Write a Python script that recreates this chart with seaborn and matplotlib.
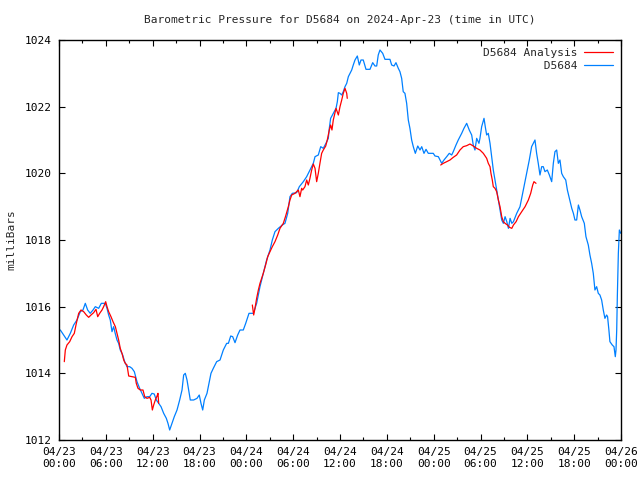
import numpy as np
import pandas as pd
import matplotlib
matplotlib.use("Agg")
import matplotlib.pyplot as plt
import seaborn as sns
from matplotlib.ticker import MultipleLocator, FixedLocator

# ---------------- data ----------------
title = "Barometric Pressure for D5684 on 2024-Apr-23 (time in UTC)"
y_label = "milliBars"
series_obs = "D5684"
series_ana = "D5684 Analysis"

x_tick_hours = [0, 6, 12, 18, 24, 30, 36, 42, 48, 54, 60, 66, 72]
x_tick_labels = ["04/23\n00:00", "04/23\n06:00", "04/23\n12:00", "04/23\n18:00",
                 "04/24\n00:00", "04/24\n06:00", "04/24\n12:00", "04/24\n18:00",
                 "04/25\n00:00", "04/25\n06:00", "04/25\n12:00", "04/25\n18:00",
                 "04/26\n00:00"]
y_ticks = [1012, 1014, 1016, 1018, 1020, 1022, 1024]

obs_hours = [0.17, 0.6, 1.02, 1.45, 1.88, 2.3, 2.73, 3.07, 3.37, 3.67, 4.0, 4.36, 4.65, 5.08,
             5.42, 5.93, 6.15, 6.36, 6.57, 6.79, 7.0, 7.2, 7.43, 7.64, 7.85, 8.16, 8.41, 8.71,
             9.05, 9.35, 9.65, 9.99, 10.33, 10.63, 10.93, 11.27, 11.62, 11.91, 12.2, 12.47,
             12.77, 13.07, 13.41, 13.75, 13.96, 14.18, 14.48, 14.77, 15.12, 15.46, 15.76,
             15.97, 16.18, 16.4, 16.61, 16.82, 17.25, 17.68, 17.97, 18.19, 18.41, 18.62,
             18.96, 19.22, 19.47, 19.77, 20.2, 20.63, 21.05, 21.48, 21.7, 22.0, 22.25, 22.55,
             22.89, 23.19, 23.61, 23.92, 24.34, 24.9, 25.32, 25.75, 26.17, 26.6, 27.03, 27.33,
             27.67, 28.1, 28.61, 28.95, 29.3, 29.59, 29.89, 30.45, 30.79, 31.3, 31.73, 32.15,
             32.58, 32.8, 33.22, 33.53, 33.86, 34.2, 34.5, 34.63, 34.8, 35.14, 35.49, 35.66,
             35.79, 36.0, 36.22, 36.42, 36.64, 36.86, 37.07, 37.28, 37.5, 37.7, 37.92, 38.22,
             38.47, 38.69, 38.98, 39.33, 39.84, 40.19, 40.48, 40.7, 40.9, 41.12, 41.47, 41.76,
             42.4, 42.62, 42.92, 43.17, 43.47, 43.68, 43.9, 44.1, 44.32, 44.54, 44.75, 44.96,
             45.18, 45.39, 45.65, 45.96, 46.25, 46.47, 46.76, 47.02, 47.31, 47.95, 48.17, 48.6,
             48.81, 49.03, 49.32, 49.67, 50.0, 50.31, 50.51, 50.86, 51.15, 51.59, 51.88, 52.23,
             52.56, 52.87, 53.07, 53.29, 53.51, 53.8, 53.93, 54.15, 54.45, 54.61, 54.79, 55.0,
             55.22, 55.43, 55.64, 55.86, 56.07, 56.29, 56.5, 56.72, 56.93, 57.15, 57.37, 57.58,
             57.79, 58.01, 58.22, 58.64, 59.06, 59.48, 59.91, 60.25, 60.55, 60.77, 60.98, 61.19,
             61.4, 61.62, 61.84, 62.04, 62.26, 62.56, 62.82, 63.12, 63.33, 63.54, 63.76, 63.97,
             64.18, 64.4, 64.61, 64.92, 65.13, 65.38, 65.69, 65.9, 66.1, 66.32, 66.54, 66.74,
             66.96, 67.3, 67.51, 67.81, 68.02, 68.24, 68.45, 68.66, 68.88, 69.09, 69.3, 69.52,
             69.73, 69.94, 70.16, 70.28, 70.45, 70.58, 70.88, 71.1, 71.27, 71.36, 71.45, 71.53,
             71.66, 71.79, 71.97]
obs_values = [1015.3, 1015.15, 1015.0, 1015.2, 1015.45, 1015.6, 1015.85, 1015.9, 1016.1, 1015.9,
              1015.8, 1015.9, 1016.0, 1015.95, 1016.1, 1016.1, 1015.95, 1015.75, 1015.6, 1015.25,
              1015.4, 1015.2, 1015.0, 1014.9, 1014.7, 1014.55, 1014.35, 1014.2, 1014.2, 1014.15,
              1014.05, 1013.75, 1013.55, 1013.4, 1013.25, 1013.3, 1013.3, 1013.4, 1013.38, 1013.2,
              1013.1, 1013.0, 1012.8, 1012.65, 1012.5, 1012.3, 1012.5, 1012.7, 1012.9, 1013.2,
              1013.5, 1013.95, 1014.0, 1013.8, 1013.5, 1013.2, 1013.2, 1013.25, 1013.35, 1013.1,
              1012.9, 1013.2, 1013.4, 1013.7, 1014.0, 1014.15, 1014.35, 1014.4, 1014.7, 1014.9,
              1014.9, 1015.12, 1015.1, 1014.92, 1015.15, 1015.3, 1015.3, 1015.5, 1015.8, 1015.8,
              1016.1, 1016.6, 1017.0, 1017.4, 1017.7, 1018.0, 1018.25, 1018.35, 1018.45, 1018.5,
              1018.8, 1019.3, 1019.4, 1019.42, 1019.6, 1019.75, 1019.9, 1020.1, 1020.3, 1020.5,
              1020.55, 1020.8, 1020.75, 1020.9, 1021.05, 1021.35, 1021.65, 1021.8, 1021.95,
              1022.15, 1022.42, 1022.4, 1022.35, 1022.45, 1022.6, 1022.7, 1022.9, 1023.0, 1023.1,
              1023.25, 1023.4, 1023.52, 1023.25, 1023.4, 1023.4, 1023.12, 1023.12, 1023.32,
              1023.22, 1023.22, 1023.55, 1023.7, 1023.6, 1023.42, 1023.42, 1023.25, 1023.22,
              1023.32, 1023.15, 1023.05, 1022.85, 1022.45, 1022.4, 1022.1, 1021.6, 1021.35,
              1021.0, 1020.8, 1020.6, 1020.82, 1020.7, 1020.8, 1020.6, 1020.72, 1020.6, 1020.6,
              1020.52, 1020.5, 1020.4, 1020.3, 1020.4, 1020.5, 1020.6, 1020.55, 1020.65, 1020.85,
              1021.0, 1021.2, 1021.35, 1021.5, 1021.3, 1021.15, 1020.85, 1020.7, 1021.05, 1020.9,
              1021.05, 1021.4, 1021.65, 1021.4, 1021.15, 1021.2, 1020.9, 1020.5, 1020.1, 1019.8,
              1019.5, 1019.2, 1018.9, 1018.6, 1018.5, 1018.7, 1018.55, 1018.35, 1018.65, 1018.5,
              1018.55, 1018.8, 1019.0, 1019.5, 1020.0, 1020.4, 1020.8, 1020.9, 1021.0, 1020.6,
              1020.3, 1019.95, 1020.2, 1020.2, 1020.05, 1020.1, 1019.95, 1019.75, 1020.3, 1020.65,
              1020.7, 1020.3, 1020.4, 1020.0, 1019.9, 1019.8, 1019.5, 1019.25, 1018.95, 1018.8,
              1018.6, 1018.6, 1019.05, 1018.9, 1018.7, 1018.5, 1018.1, 1017.85, 1017.55, 1017.3,
              1017.0, 1016.5, 1016.6, 1016.4, 1016.35, 1016.2, 1015.9, 1015.65, 1015.75, 1015.7,
              1015.3, 1014.95, 1014.85, 1014.8, 1014.5, 1014.7, 1015.3, 1016.3, 1017.6, 1018.3,
              1018.2]

ana1_hours = [0.68, 0.81, 1.02, 1.37, 1.67, 1.96, 2.22, 2.52, 2.82, 3.16, 3.5, 3.8, 4.1, 4.44,
              4.74, 4.96, 5.21, 5.51, 5.72, 5.98, 6.15, 6.36, 6.66, 6.92, 7.22, 7.43, 7.64,
              7.85, 8.07, 8.29, 8.49, 8.71, 8.93, 9.35, 9.78, 9.9, 10.12, 10.42, 10.76, 10.98,
              11.27, 11.62, 11.79, 11.96, 12.13, 12.34, 12.56, 12.68, 12.77]
ana1_values = [1014.35, 1014.7, 1014.85, 1014.95, 1015.1, 1015.2, 1015.5, 1015.8, 1015.9,
               1015.85, 1015.75, 1015.68, 1015.75, 1015.82, 1015.92, 1015.7, 1015.8, 1015.9,
               1016.0, 1016.15, 1016.0, 1015.85, 1015.7, 1015.55, 1015.4, 1015.2, 1015.0,
               1014.75, 1014.6, 1014.4, 1014.3, 1014.25, 1013.92, 1013.9, 1013.88, 1013.7,
               1013.55, 1013.5, 1013.5, 1013.3, 1013.25, 1013.28, 1013.2, 1012.9, 1013.05,
               1013.2, 1013.32, 1013.4, 1013.1]

ana2_hours = [24.77, 24.94, 25.11, 25.32, 25.54, 25.75, 26.17, 26.47, 26.74, 27.03, 27.33,
              27.67, 28.02, 28.31, 28.74, 29.04, 29.38, 29.59, 29.81, 30.23, 30.66, 30.87,
              31.09, 31.22, 31.51, 31.73, 31.94, 32.15, 32.37, 32.58, 32.8, 33.01, 33.22,
              33.43, 33.65, 33.86, 34.17, 34.37, 34.63, 34.8, 34.97, 35.14, 35.49, 35.79,
              36.0, 36.22, 36.42, 36.64, 36.86, 36.93]
ana2_values = [1016.05, 1015.75, 1015.95, 1016.25, 1016.5, 1016.7, 1017.0, 1017.25, 1017.5,
               1017.65, 1017.8, 1017.95, 1018.15, 1018.35, 1018.5, 1018.72, 1019.0, 1019.2,
               1019.35, 1019.4, 1019.5, 1019.3, 1019.55, 1019.5, 1019.6, 1019.8, 1019.65,
               1019.85, 1020.1, 1020.28, 1020.15, 1019.75, 1020.0, 1020.3, 1020.6, 1020.7,
               1020.82, 1021.0, 1021.3, 1021.45, 1021.3, 1021.6, 1021.95, 1021.75, 1022.0,
               1022.2, 1022.4, 1022.55, 1022.4, 1022.25]

ana3_hours = [48.9, 49.23, 49.67, 50.09, 50.51, 50.94, 51.37, 51.79, 52.23, 52.65, 53.07,
              53.51, 53.93, 54.36, 54.79, 55.0, 55.22, 55.34, 55.51, 55.64, 55.86, 56.07,
              56.29, 56.5, 56.72, 56.93, 57.15, 57.45, 57.71, 58.01, 58.22, 58.56, 58.86,
              59.28, 59.71, 60.13, 60.43, 60.69, 60.85, 61.11]
ana3_values = [1020.25, 1020.3, 1020.35, 1020.4, 1020.48, 1020.55, 1020.7, 1020.8, 1020.83,
               1020.88, 1020.82, 1020.75, 1020.7, 1020.6, 1020.45, 1020.3, 1020.2, 1020.0,
               1019.8, 1019.6, 1019.55, 1019.45, 1019.2, 1019.0, 1018.7, 1018.55, 1018.5,
               1018.45, 1018.38, 1018.35, 1018.45, 1018.55, 1018.7, 1018.85, 1019.0, 1019.2,
               1019.4, 1019.65, 1019.75, 1019.7]

# ---------------- plot ----------------
sns.set_style("ticks")
plt.rcParams["font.family"] = ["DejaVu Sans Mono", "DejaVu Sans"]
plt.rcParams["font.size"] = 8

fig = plt.figure(figsize=(6.4, 4.8), dpi=100)
ax = fig.add_axes([59 / 640, 1 - 440 / 480, 562 / 640, 400 / 480])

blue = "#0080ff"
red = "#ff0000"

obs_df = pd.DataFrame({"hour": obs_hours, "value": obs_values})
sns.lineplot(data=obs_df, x="hour", y="value", ax=ax, color=blue, linewidth=0.9,
             label=" " * (len(series_ana) - len(series_obs)) + series_obs, sort=False,
             estimator=None, zorder=2)

for i, (hh, vv) in enumerate([(ana1_hours, ana1_values), (ana2_hours, ana2_values),
                              (ana3_hours, ana3_values)]):
    d = pd.DataFrame({"hour": hh, "value": vv})
    sns.lineplot(data=d, x="hour", y="value", ax=ax, color=red, linewidth=0.9,
                 label=series_ana if i == 0 else None, sort=False, estimator=None, zorder=3)

ax.set_xlim(0, 72)
ax.set_ylim(1012, 1024)
ax.xaxis.set_major_locator(FixedLocator(x_tick_hours))
ax.set_xticklabels(x_tick_labels)
ax.xaxis.set_minor_locator(MultipleLocator(3))
ax.set_yticks(y_ticks)
ax.set_yticklabels([str(v) for v in y_ticks])

ax.tick_params(axis="both", which="both", direction="in", top=True, right=True,
               labelsize=8, colors="black")
ax.tick_params(axis="both", which="major", length=4.5, width=0.8, pad=5)
ax.tick_params(axis="x", which="minor", length=2.5, width=0.8)
for s in ax.spines.values():
    s.set_visible(True)
    s.set_linewidth(1.0)
    s.set_color("black")

ax.set_xlabel("")
ax.set_ylabel(y_label, fontsize=8)
ax.yaxis.set_label_coords(-(59 - 16) / 562, 0.5)
ax.set_title(title, fontsize=8, pad=12)

# order: analysis first, then observations
handles, labels = ax.get_legend_handles_labels()
order = [labels.index(series_ana), 1 - labels.index(series_ana)]
leg = ax.legend([handles[i] for i in order], [labels[i] for i in order],
                loc="upper right", frameon=False, markerfirst=False, fontsize=8,
                handlelength=2.6, handletextpad=0.6, borderaxespad=0.3, labelspacing=0.25)

fig.savefig("out.png", dpi=100)
